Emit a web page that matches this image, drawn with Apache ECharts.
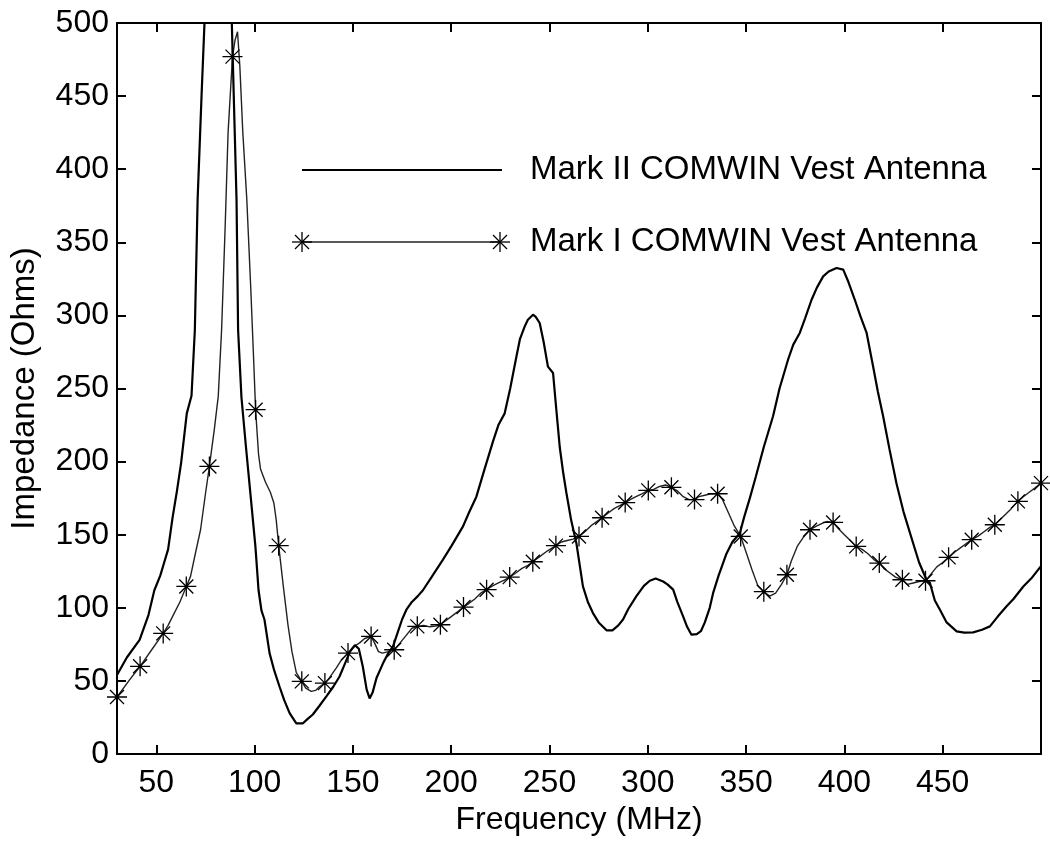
<!DOCTYPE html>
<html>
<head>
<meta charset="utf-8">
<script src="https://cdn.jsdelivr.net/npm/echarts@6/dist/echarts.min.js"></script>
<style>
html,body{margin:0;padding:0;background:#fff;}
#chart{width:1050px;height:844px;}
</style>
</head>
<body>
<div id="chart"></div>
<script>
// ---- Data ----
const seriesNames = ['Mark II COMWIN Vest Antenna', 'Mark I COMWIN Vest Antenna'];

// Mark II (solid line)
const freqII = [30,35,41.5,46,49,52,54,56,58.3,60.5,62.6,65.5,67.9,69.6,71,73,74.5,76,80,84,87,88.4,90.8,91.6,93.3,95.6,98,100.4,102,103.5,105,107.6,110,112.7,115,117.8,121.2,124.6,127,129.6,133,136.5,140,143.2,146,148.5,151,153,155,157,158.5,160,162,165.3,168,170.4,173,175,177.2,180,183,185.6,190,195.8,200,206,209,212.8,217,221.3,224,227.2,230,233.2,235,237.4,239,241.6,243,245,247,249.2,251.8,253.5,255.2,257,258.6,261,263.7,265.5,267,269.5,272.1,275,279,282,285,287.4,290,294.2,298,301,304,307.8,310,312.9,315,318,320,322.2,324.9,327,329,331.5,333.2,336,340,343,346.8,349,351.9,355,359,363.7,367,371.4,374,377.3,380,383.3,386,389.2,392,396,399.4,402,405.3,408,411.3,414.6,417,419.7,423,426.5,430,435,438,441.8,443.5,446,448.6,452,457.1,461,465.5,470,474,478,482.5,486,491,495,500];
const impII  = [54,66,78,95,112,122,131,140,162,180,199,233,245,290,379,450,500,640,900,800,580,500,379,290,244,210,176,142,112,98,92,69,57,46,37,28,21,21,24,27,33,39.4,46,53,62,70,74.5,72,60,44,38,42,52,62,69,73.6,84,92,98.7,104,108,112,121,133,142,155.7,165,176,195,214,225,233,250,272,284,292.5,297,300.5,299,294.8,282,265,260.6,235,210,192,178.5,160,144,128,114.6,104,96.4,90,84.6,84.6,88,92,99,108,115,118.5,120,118,116,112.4,104,94,87,81.6,82,84,90,100,110,122,137,145,151,162,175,190,210,231,250,270,280,288,298,310.7,319,326.7,330,332.4,331.3,323,310.7,300,288,265,248,231,208,185,166,144,131,119,117,105,98.7,90,83.9,83,83.2,85,87.3,94,101,106,114.6,120,128.5];

// Mark I (thin line)
const freqI = [30,36,41.75,48,53.5,56,59,62,65.25,67.4,70,72.5,75,77,79.5,81.5,83.2,85,86.5,88.75,90,91.3,92.5,94,96,98,99.5,100.5,102,103,105.5,108,109.8,111,112.25,114.8,117,119,121.2,124,126,128.8,131,133,135.75,138,141.5,144,147.5,150,153.4,156,159.25,161,163,165,168,171,174,177,180,182.75,186,189,192,194.5,197,200,203,206.25,209,212,215,218,221,224,227,229.75,233,236,239,241.5,245,249,253.25,256,259,262,265,268,271,274,276.75,280,283,286,288.5,291,294,297,300.25,303,306,309,312,315,318,321,323.75,326,329,332,335.5,338,341,344,347.25,350,353,356,359,362,365,368,370.75,373,376,379,382.5,386,389,391,394.25,397,400,403,406,409,412,415,417.75,420,423,426,429.5,432,435,438,441.25,444,447,450,453,456,459,462,464.75,468,471,474,476.5,479,482,485,488.25,491,494,497,500];
const impI  = [39,50,60,72,82.5,88,96,104,114.6,121.5,138,153.4,178,196.7,222,244.6,290,360,425,477,488,494,470,425,380,320,270,235.5,205,195,186,179,171.7,160,142.5,112.4,88,70,55.6,49.7,45,42.8,43.5,46,48.5,52,58.8,64,69,73,76,79,80.4,76,70,69,70,71.3,76,81,86,87.3,88,87,87.5,88.4,91,94,97,100.5,103,106,110,112.4,115,117,119,121,124,127,129,131.5,135,139,142.5,145,146,147,148.8,152,156,159,161.6,165,168,170,172,174,176,178,180.3,181,183,184,182.4,180,176,174,174,176,177,178,178,174,165,156,148.8,138,126,115,111,108,110,116,122.6,132,142,148,153.4,156,158,159,158.4,154,150,146,142,140,137,133,130.6,127,124,121,119.2,116,117,118,118.5,123,128,131,134.5,138,141,144,146.6,149,152,155,156.8,160,164,168,172.8,176,179,182,185.3];

// Mark I star markers
const starFreq = [30,41.75,53.5,65.25,77,88.75,100.5,112.25,124,135.75,147.5,159.25,171,182.75,194.5,206.25,218,229.75,241.5,253.25,265,276.75,288.5,300.25,312,323.75,335.5,347.25,359,370.75,382.5,394.25,406,417.75,429.5,441.25,453,464.75,476.5,488.25,500];
const starImp  = [39,60,82.5,114.6,196.7,477,235.5,142.5,49.7,48.5,69,80.4,71.3,87.3,88.4,100.5,112.4,121,131.5,142.5,148.8,161.6,172,180.3,182.4,174,178,148.8,111,122.6,153.4,158.4,142,130.6,119.2,118.5,134.5,146.6,156.8,172.8,185.3];

// Axis ticks
const xTicks = [50,100,150,200,250,300,350,400,450];
const xMin = 30, xMax = 500;
const yMin = 0, yMax = 500, yStep = 50;
const axisTitles = {x: 'Frequency (MHz)', y: 'Impedance (Ohms)'};

// ---- Chart ----
const FONT = '"Liberation Sans", Arial, Helvetica, sans-serif';
const STAR = 'path://M10,0V20M0,10H20M3,3L17,17M3,17L17,3';

function zip(a, b){ return a.map((v,i)=>[v, b[i]]); }

const chart = echarts.init(document.getElementById('chart'), null, {renderer:'canvas'});

const axisLineStyle = {color:'#000', width:2};
const tickStyle = {color:'#000', width:2};

function starGraphic(cx, cy){
  const r = 10, d = 7;
  const segs = [[0,-r,0,r],[-r,0,r,0],[-d,-d,d,d],[-d,d,d,-d]];
  return {
    type:'group', x:cx, y:cy,
    children: segs.map(s=>({type:'line', shape:{x1:s[0],y1:s[1],x2:s[2],y2:s[3]}, style:{stroke:'#000', lineWidth:1.3}}))
  };
}

const option = {
  animation:false,
  backgroundColor:'#fff',
  grid:{left:117, right:9, top:23, bottom:90, containLabel:false, outerBoundsMode:'none'},
  xAxis:[{
    type:'value', min:xMin, max:xMax, position:'bottom',
    name:axisTitles.x, nameLocation:'middle', nameGap:48,
    nameTextStyle:{fontSize:32, color:'#000', fontFamily:FONT},
    axisLine:{show:true, onZero:false, lineStyle:axisLineStyle},
    axisTick:{show:true, inside:true, length:9, customValues:xTicks, lineStyle:tickStyle},
    axisLabel:{show:true, customValues:xTicks, fontSize:32, color:'#000', fontFamily:FONT, margin:13},
    splitLine:{show:false}
  },{
    type:'value', min:xMin, max:xMax, position:'top',
    axisLine:{show:true, onZero:false, lineStyle:axisLineStyle},
    axisTick:{show:true, inside:true, length:9, customValues:xTicks, lineStyle:tickStyle},
    axisLabel:{show:false}, splitLine:{show:false}
  }],
  yAxis:[{
    type:'value', min:yMin, max:yMax, interval:yStep, position:'left',
    name:axisTitles.y, nameLocation:'middle', nameGap:76,
    nameTextStyle:{fontSize:33, color:'#000', fontFamily:FONT},
    axisLine:{show:true, onZero:false, lineStyle:axisLineStyle},
    axisTick:{show:true, inside:true, length:9, lineStyle:tickStyle},
    axisLabel:{show:true, fontSize:32, color:'#000', fontFamily:FONT, margin:8},
    splitLine:{show:false}
  },{
    type:'value', min:yMin, max:yMax, interval:yStep, position:'right',
    axisLine:{show:true, onZero:false, lineStyle:axisLineStyle},
    axisTick:{show:true, inside:true, length:9, lineStyle:tickStyle},
    axisLabel:{show:false}, splitLine:{show:false}
  }],
  series:[{
    name:seriesNames[0], type:'line', xAxisIndex:0, yAxisIndex:0,
    data:zip(freqII, impII), showSymbol:false, clip:true, smooth:false,
    lineStyle:{color:'#000', width:2.2}, z:3
  },{
    name:seriesNames[1], type:'line', xAxisIndex:0, yAxisIndex:0,
    data:zip(freqI, impI), showSymbol:false, clip:true, smooth:false,
    lineStyle:{color:'#222', width:1.4}, z:2
  },{
    name:seriesNames[1]+' markers', type:'scatter', xAxisIndex:0, yAxisIndex:0,
    data:zip(starFreq, starImp), symbol:STAR, symbolSize:20, clip:false,
    itemStyle:{color:'transparent', borderColor:'#000', borderWidth:1.3, opacity:1}, z:4
  }],
  graphic:[
    {type:'line', shape:{x1:302, y1:170, x2:502, y2:170}, style:{stroke:'#000', lineWidth:2.2}},
    {type:'text', x:530, y:170, style:{text:seriesNames[0], font:'33px '+FONT, fill:'#000', textVerticalAlign:'middle', verticalAlign:'middle'}},
    {type:'line', shape:{x1:302, y1:242, x2:500, y2:242}, style:{stroke:'#222', lineWidth:1.4}},
    starGraphic(302, 242),
    starGraphic(500, 242),
    {type:'text', x:530, y:242, style:{text:seriesNames[1], font:'33px '+FONT, fill:'#000', textVerticalAlign:'middle', verticalAlign:'middle'}}
  ]
};
chart.setOption(option);
</script>
</body>
</html>
